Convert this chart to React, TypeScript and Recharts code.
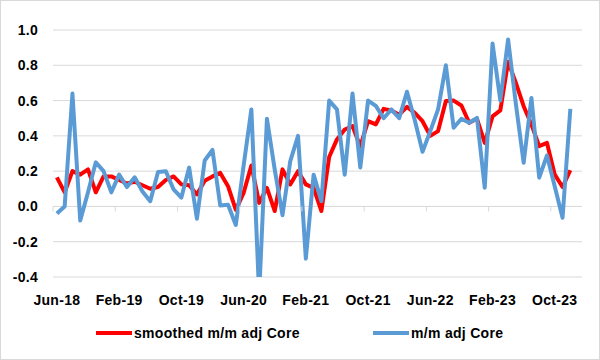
import { CartesianGrid, Line, LineChart, XAxis, YAxis } from "recharts";

const RED = "#ff0000";
const BLUE = "#5b9bd5";
const GRID = "#d9d9d9";
const FONT = "'Liberation Sans', Arial, sans-serif";

const MONTH_NAMES = ["Jan", "Feb", "Mar", "Apr", "May", "Jun", "Jul", "Aug", "Sep", "Oct", "Nov", "Dec"];

// monthly categories Jun-18 .. Jan-24 (last one has no data, like the Excel sheet)
const MONTHS: string[] = [];
for (let i = 0; i < 68; i++) {
  const m = (5 + i) % 12;
  const y = 18 + Math.floor((5 + i) / 12);
  MONTHS.push(`${MONTH_NAMES[m]}-${y}`);
}

const X_TICKS = ["Jun-18", "Feb-19", "Oct-19", "Jun-20", "Feb-21", "Oct-21", "Jun-22", "Feb-23", "Oct-23"];
const Y_TICKS = [-0.4, -0.2, 0, 0.2, 0.4, 0.6, 0.8, 1.0];

const SMOOTHED = [
  0.165, 0.08, 0.2, 0.18, 0.21, 0.08, 0.17, 0.17, 0.15, 0.13,
  0.14, 0.12, 0.1, 0.11, 0.15, 0.17, 0.125, 0.12, 0.068, 0.145,
  0.17, 0.19, 0.115, -0.02, 0.077, 0.232, 0.02, 0.105, -0.026, 0.21,
  0.125, 0.2, 0.125, 0.105, -0.026, 0.28, 0.38, 0.436, 0.455, 0.34,
  0.483, 0.465, 0.553, 0.544, 0.52, 0.564, 0.53, 0.483, 0.4, 0.427,
  0.597, 0.6, 0.572, 0.474, 0.497, 0.36, 0.51, 0.544, 0.82, 0.7,
  0.568, 0.464, 0.342, 0.36, 0.18, 0.11, 0.205,
];

const MM_CORE = [
  -0.04, 0.0, 0.64, -0.08, 0.08, 0.25, 0.2, 0.08, 0.18, 0.11,
  0.165, 0.085, 0.03, 0.195, 0.2, 0.096, 0.05, 0.22, -0.07, 0.26,
  0.32, 0.005, 0.01, -0.105, 0.23, 0.55, -0.5, 0.497, 0.21, -0.05,
  0.257, 0.4, -0.296, 0.18, 0.03, 0.6, 0.55, 0.18, 0.64, 0.22,
  0.6, 0.57, 0.5, 0.55, 0.5, 0.65, 0.49, 0.31, 0.427, 0.55,
  0.8, 0.446, 0.497, 0.474, 0.502, 0.106, 0.923, 0.6, 0.946, 0.58,
  0.247, 0.615, 0.163, 0.289, 0.113, -0.064, 0.553,
];

const data = MONTHS.map((month, i) => ({
  month,
  smoothed: SMOOTHED[i],
  core: MM_CORE[i],
}));

// plot geometry (svg coords)
const W = 598;
const H = 358;
const TOP = 29;
const BOTTOM = 276;
const HALF_STEP = 3.89;
const ZERO_Y = TOP + ((BOTTOM - TOP) * 1.0) / 1.4;

const textStyle = { fontFamily: FONT, fontWeight: 700, fontSize: 14, letterSpacing: 0.3, fill: "#000" };

function XTick(props: any) {
  const { x, payload } = props;
  return (
    <g>
      <line x1={x - HALF_STEP} x2={x - HALF_STEP} y1={ZERO_Y} y2={ZERO_Y + 5} stroke={GRID} strokeWidth={1} />
      <text x={x} y={304} textAnchor="middle" style={textStyle}>
        {payload.value}
      </text>
    </g>
  );
}

function YTick(props: any) {
  const { y, payload } = props;
  return (
    <text x={37} y={y + 5} textAnchor="end" style={textStyle}>
      {Number(payload.value).toFixed(1)}
    </text>
  );
}

function LegendItem({ color, label, left }: { color: string; label: string; left: number }) {
  return (
    <div style={{ position: "absolute", left, top: 321, height: 22, display: "flex", alignItems: "center" }}>
      <div style={{ width: 36, height: 4, background: color, marginRight: 2 }} />
      <span style={{ fontFamily: FONT, fontWeight: 700, fontSize: 14, letterSpacing: 0.3, color: "#000" }}>
        {label}
      </span>
    </div>
  );
}

export default function App() {
  return (
    <div
      style={{
        position: "absolute",
        left: 0,
        top: 0,
        width: 600,
        height: 360,
        boxSizing: "border-box",
        border: `1px solid ${GRID}`,
        background: "#fff",
      }}
    >
      <LineChart width={W} height={H} data={data} margin={{ top: TOP, right: 17, left: 0, bottom: 52 }}>
        <CartesianGrid horizontal vertical={false} stroke={GRID} />
        <XAxis
          dataKey="month"
          ticks={X_TICKS}
          interval={0}
          height={30}
          padding={{ left: HALF_STEP, right: HALF_STEP }}
          axisLine={false}
          tickLine={false}
          tick={<XTick />}
        />
        <YAxis
          width={52}
          domain={[-0.4, 1.0]}
          ticks={Y_TICKS}
          allowDataOverflow
          axisLine={false}
          tickLine={false}
          tick={<YTick />}
        />
        <Line
          dataKey="smoothed"
          stroke={RED}
          strokeWidth={4}
          dot={false}
          activeDot={false}
          strokeLinejoin="round"
          isAnimationActive={false}
        />
        <Line
          dataKey="core"
          stroke={BLUE}
          strokeWidth={4}
          dot={false}
          activeDot={false}
          strokeLinejoin="round"
          isAnimationActive={false}
        />
      </LineChart>
      <LegendItem color={RED} label="smoothed m/m adj Core" left={95} />
      <LegendItem color={BLUE} label="m/m adj Core" left={372} />
    </div>
  );
}
